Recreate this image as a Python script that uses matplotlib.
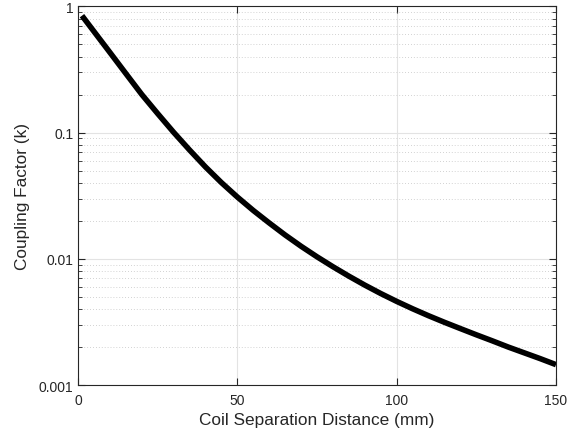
import numpy as np
import matplotlib
matplotlib.use('Agg')
import matplotlib.pyplot as plt
from matplotlib.ticker import LogLocator, FixedLocator, FuncFormatter

# coupling factor vs. coil separation
distance_mm = [1.25, 5, 10, 15, 20, 25, 30, 35, 40, 45, 50, 55, 60, 65, 70, 75,
               80, 85, 90, 95, 100, 105, 110, 115, 120, 125, 130, 135, 140, 145, 150]
coupling_k = [0.845, 0.634, 0.4325, 0.2944, 0.2009, 0.1416, 0.1007, 0.0729, 0.0535, 0.0402,
              0.0309, 0.02418, 0.01925, 0.01545, 0.01258, 0.01038, 0.00866, 0.00729,
              0.00619, 0.00531, 0.00460, 0.00402, 0.00354, 0.00314, 0.00280, 0.00250,
              0.00224, 0.00200, 0.00180, 0.00162, 0.00145]

x_ticks = [0, 50, 100, 150]
y_ticks = [0.001, 0.01, 0.1, 1]

plt.rcParams['font.family'] = ['Liberation Sans', 'DejaVu Sans']

fig = plt.figure(figsize=(5.86, 4.39), dpi=100)
ax = fig.add_axes([0.1331, 0.1207, 0.8157, 0.8623])

ax.plot(distance_mm, coupling_k, color='k', linewidth=4,
        solid_joinstyle='round', solid_capstyle='butt')

ax.set_yscale('log')
ax.set_xlim(0, 150)
ax.set_ylim(0.001, 1)
ax.xaxis.set_major_locator(FixedLocator(x_ticks))
ax.yaxis.set_major_locator(FixedLocator(y_ticks))
ax.yaxis.set_major_formatter(FuncFormatter(lambda v, p: '%g' % v))
ax.yaxis.set_minor_locator(LogLocator(base=10, subs=np.arange(2, 10)))
ax.yaxis.set_minor_formatter(FuncFormatter(lambda v, p: ''))

ax.grid(True, which='major', color='#e3e3e3', linewidth=0.8, linestyle='-')
ax.grid(True, which='minor', axis='y', color='#c4c4c4', linewidth=0.6, linestyle=(0, (1, 2.5)))
ax.set_axisbelow(True)

for s in ax.spines.values():
    s.set_color('#262626')
    s.set_linewidth(0.8)
ax.tick_params(which='both', direction='in', top=True, right=True, colors='#262626',
               labelcolor='#262626', labelsize=10)
ax.tick_params(which='major', length=5, width=0.8)
ax.tick_params(which='minor', length=3, width=0.6)
ax.tick_params(axis='x', pad=6)

ax.set_xlabel('Coil Separation Distance (mm)', fontsize=12.4, color='#262626', labelpad=3)
ax.set_ylabel('Coupling Factor (k)', fontsize=12.4, color='#262626', labelpad=6)

fig.savefig('out.png', dpi=100)
